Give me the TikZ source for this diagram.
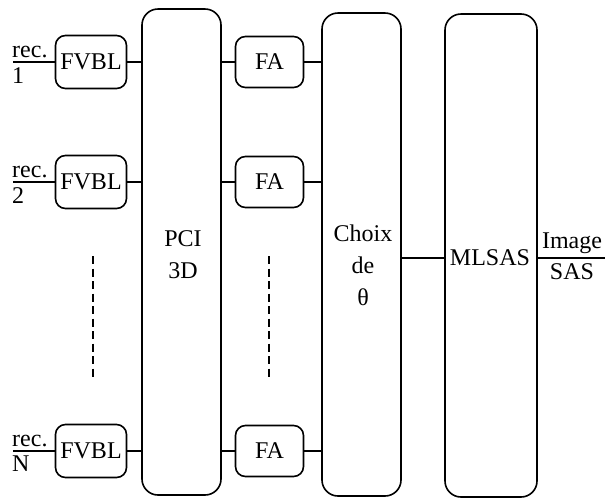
\documentclass[tikz,border=0pt]{standalone}
\usepackage{fontspec}
\setmainfont{Liberation Serif}
\begin{document}
\begin{tikzpicture}[x=1pt,y=-1pt,
  every node/.style={font=\rmfamily\fontsize{24}{32}\selectfont, inner sep=0pt},
  box/.style={draw, line width=1.6pt, rounded corners=10pt, minimum width=71pt, minimum height=53pt},
  fabox/.style={draw, line width=1.6pt, rounded corners=10pt, minimum width=68pt, minimum height=51pt},
  bigbox/.style={draw, line width=1.6pt, rounded corners=16pt},
  conn/.style={line width=1.6pt},
  dashline/.style={line width=1.6pt, dash pattern=on 8pt off 4.5pt}
]
\useasboundingbox (0,0) rectangle (605,499);

% FVBL boxes
\node[box] (fv1) at (91,62) {FVBL};
\node[box] (fv2) at (91,182) {FVBL};
\node[box] (fvN) at (91,451) {FVBL};

% PCI 3D
\node[bigbox, minimum width=79pt, minimum height=486pt] (pci) at (181.5,252) {};
\node[align=center] (pcit) at (183,255) {PCI\\3D};

% FA boxes
\node[fabox] (fa1) at (269.5,62) {FA};
\node[fabox] (fa2) at (269.5,182) {FA};
\node[fabox] (faN) at (269.5,451) {FA};

% Choix de theta
\node[bigbox, minimum width=79pt, minimum height=483pt] (ch) at (361.5,254.5) {};
\node[align=center] (cht) at (363,265) {Choix\\de\\θ};

% MLSAS
\node[bigbox, minimum width=92pt, minimum height=483pt] (ml) at (491,255.5) {};
\node (mlt) at (490,258) {MLSAS};

% inputs
\coordinate (in1) at (13,62);
\coordinate (in2) at (13,182);
\coordinate (inN) at (13,451);
\draw[conn] (in1) -- (fv1.west);
\draw[conn] (in2) -- (fv2.west);
\draw[conn] (inN) -- (fvN.west);
\node[anchor=south west] (r1) at (12,58) {rec.};
\node[anchor=north west] (n1) at (12,67) {1};
\node[anchor=south west] (r2) at (12,178) {rec.};
\node[anchor=north west] (n2) at (12,187) {2};
\node[anchor=south west] (rN) at (12,447) {rec.};
\node[anchor=north west] (nN) at (12,456) {N};

% FVBL -> PCI
\draw[conn] (fv1.east) -- (fv1.east -| pci.west);
\draw[conn] (fv2.east) -- (fv2.east -| pci.west);
\draw[conn] (fvN.east) -- (fvN.east -| pci.west);

% PCI -> FA
\draw[conn] (fa1.west -| pci.east) -- (fa1.west);
\draw[conn] (fa2.west -| pci.east) -- (fa2.west);
\draw[conn] (faN.west -| pci.east) -- (faN.west);

% FA -> Choix
\draw[conn] (fa1.east) -- (fa1.east -| ch.west);
\draw[conn] (fa2.east) -- (fa2.east -| ch.west);
\draw[conn] (faN.east) -- (faN.east -| ch.west);

% Choix -> MLSAS -> output
\coordinate (ly) at (0,258);
\draw[conn] (ch.east |- ly) -- (ml.west |- ly);
\coordinate (out) at (605,258);
\draw[conn] (ml.east |- ly) -- (out);
\node[anchor=south] (img) at (572,254) {Image};
\node[anchor=north] (sas) at (572,263) {SAS};

% dashed
\coordinate (d1a) at (93,256);
\coordinate (d1b) at (93,380);
\coordinate (d2a) at (269,256);
\coordinate (d2b) at (269,380);
\draw[dashline] (d1a) -- (d1b);
\draw[dashline] (d2a) -- (d2b);
\end{tikzpicture}
\end{document}
